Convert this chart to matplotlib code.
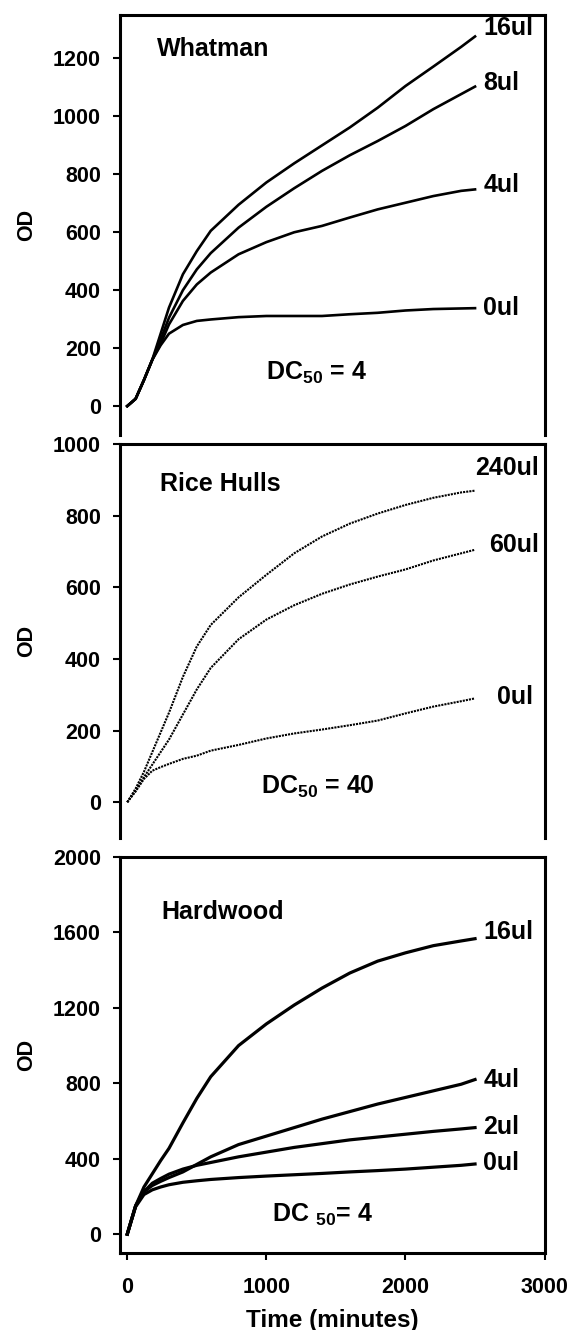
import matplotlib
matplotlib.use("Agg")
import matplotlib.pyplot as plt

plt.rcParams['font.family'] = ['Liberation Sans', 'DejaVu Sans']
plt.rcParams['font.weight'] = 'bold'
plt.rcParams['mathtext.fontset'] = 'custom'
plt.rcParams['mathtext.rm'] = 'Liberation Sans:bold'
plt.rcParams['mathtext.it'] = 'Liberation Sans:bold'
plt.rcParams['mathtext.bf'] = 'Liberation Sans:bold'
plt.rcParams['mathtext.default'] = 'rm'

# tempo (minuti)
time_min = [0, 60, 120, 180, 240, 300, 400, 500, 600, 800, 1000,
            1200, 1400, 1600, 1800, 2000, 2200, 2400, 2500]

# Whatman
whatman_16ul = [0, 25, 90, 160, 250, 340, 455, 535, 605, 695, 772,
                838, 900, 962, 1030, 1105, 1172, 1240, 1276]
whatman_8ul = [0, 25, 90, 160, 230, 305, 400, 472, 528, 616, 688,
               752, 812, 866, 915, 967, 1025, 1077, 1103]
whatman_4ul = [0, 25, 90, 160, 215, 282, 363, 420, 461, 524, 566,
               600, 622, 651, 679, 702, 725, 743, 748]
whatman_0ul = [0, 25, 90, 160, 210, 250, 280, 294, 299, 307, 311,
               311, 311, 317, 322, 330, 335, 337, 338]

# Rice Hulls
rice_240ul = [0, 38, 85, 140, 195, 250, 350, 435, 495, 572, 635,
              695, 742, 778, 806, 830, 850, 865, 870]
rice_60ul = [0, 33, 70, 105, 140, 175, 245, 315, 375, 455, 510,
             550, 582, 608, 630, 650, 675, 695, 705]
rice_0ul = [0, 30, 65, 88, 98, 107, 121, 130, 144, 160, 178,
            192, 203, 215, 228, 248, 267, 282, 290]

# Hardwood
hard_16ul = [0, 150, 250, 320, 390, 455, 590, 720, 835, 1000, 1115,
             1215, 1305, 1385, 1448, 1492, 1530, 1555, 1567]
hard_4ul = [0, 150, 225, 258, 280, 300, 330, 370, 410, 475, 520,
            565, 610, 650, 690, 725, 760, 795, 820]
hard_2ul = [0, 150, 225, 270, 295, 318, 345, 365, 380, 410, 435,
            460, 480, 500, 515, 530, 545, 558, 565]
hard_0ul = [0, 145, 210, 235, 250, 262, 275, 283, 290, 300, 308,
            315, 322, 330, 337, 345, 355, 365, 372]

fig = plt.figure(figsize=(5.68, 13.30), dpi=100)
ax1 = fig.add_axes([0.2118, 0.6729, 0.747, 0.3158])
ax2 = fig.add_axes([0.2118, 0.3699, 0.747, 0.2962])
ax3 = fig.add_axes([0.2118, 0.0579, 0.747, 0.2977])

for ax in (ax1, ax2, ax3):
    ax.set_xlim(-50, 3000)
    for s in ax.spines.values():
        s.set_linewidth(2.2)
    ax.tick_params(axis='both', direction='out', length=5, width=1.5,
                   labelsize=15.5, pad=9)
    ax.set_ylabel('OD', fontsize=15.5, fontweight='bold')
    ax.yaxis.set_label_coords(-0.195, 0.5)

for ax in (ax1, ax2):
    ax.spines['bottom'].set_visible(False)
    ax.set_xticks([])

# pannello Whatman
ax1.set_ylim(-100, 1350)
ax1.set_yticks(range(0, 1201, 200))
for serie in (whatman_16ul, whatman_8ul, whatman_4ul, whatman_0ul):
    ax1.plot(time_min, serie, color='black', lw=1.9)
ax1.text(215, 1232, 'Whatman', fontsize=18, va='center')
ax1.text(1000, 113, 'DC$_{50}$ = 4', fontsize=18, va='center')
ax1.text(2560, 1304, '16ul', fontsize=18, va='center')
ax1.text(2560, 1117, '8ul', fontsize=18, va='center')
ax1.text(2560, 762, '4ul', fontsize=18, va='center')
ax1.text(2560, 337, '0ul', fontsize=18, va='center')

# pannello Rice Hulls
ax2.set_ylim(-100, 1000)
ax2.set_yticks(range(0, 1001, 200))
for serie in (rice_240ul, rice_60ul, rice_0ul):
    ax2.plot(time_min, serie, color='black', lw=1.5, ls=(0, (1, 0.5)))
ax2.text(235, 888, 'Rice Hulls', fontsize=18, va='center')
ax2.text(960, 42, 'DC$_{50}$ = 40', fontsize=18, va='center')
ax2.text(2500, 932, '240ul', fontsize=18, va='center')
ax2.text(2600, 719, '60ul', fontsize=18, va='center')
ax2.text(2655, 293, '0ul', fontsize=18, va='center')

# pannello Hardwood
ax3.set_ylim(-100, 2000)
ax3.set_yticks(range(0, 2001, 400))
ax3.set_xticks([0, 1000, 2000, 3000])
ax3.tick_params(axis='x', pad=12)
for serie in (hard_16ul, hard_4ul, hard_2ul, hard_0ul):
    ax3.plot(time_min, serie, color='black', lw=2.3)
ax3.text(245, 1708, 'Hardwood', fontsize=18, va='center')
ax3.text(1040, 101, 'DC $_{50}$= 4', fontsize=18, va='center')
ax3.text(2560, 1602, '16ul', fontsize=18, va='center')
ax3.text(2560, 816, '4ul', fontsize=18, va='center')
ax3.text(2560, 569, '2ul', fontsize=18, va='center')
ax3.text(2560, 375, '0ul', fontsize=18, va='center')
ax3.set_xlabel('Time (minutes)', fontsize=17.5, fontweight='bold', labelpad=8)

plt.savefig('out.png', dpi=100)
